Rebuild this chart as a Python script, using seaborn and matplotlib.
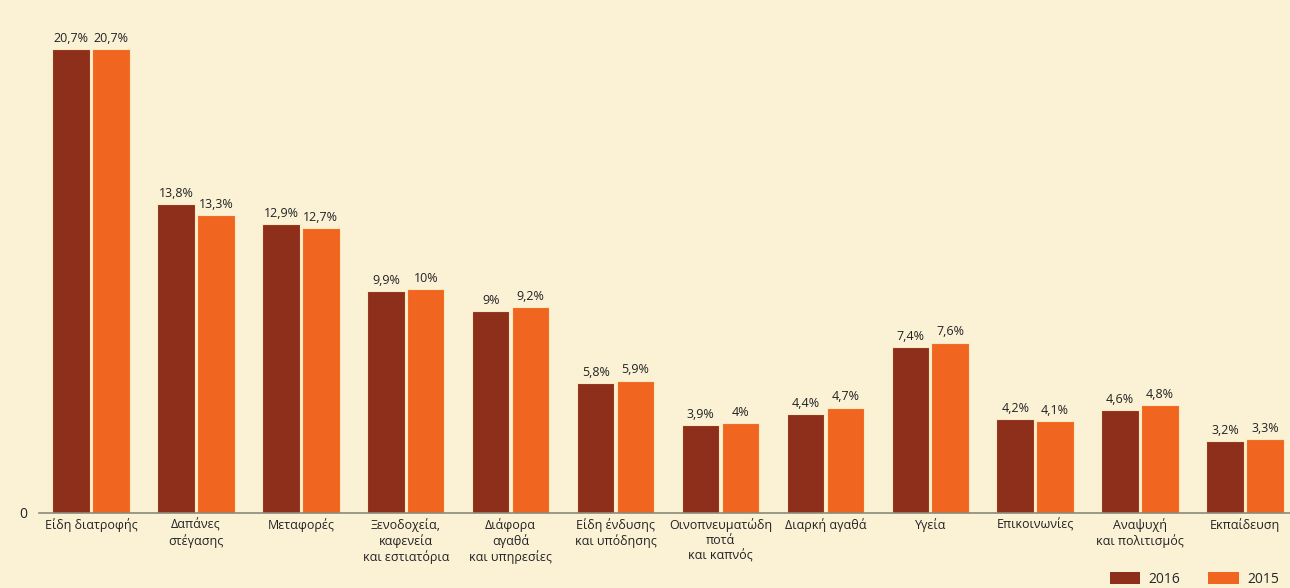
import matplotlib
matplotlib.use("Agg")
import matplotlib.pyplot as plt
import seaborn as sns
import pandas as pd
from matplotlib.patches import Patch

categories = [
    "Είδη διατροφής",
    "Δαπάνες\nστέγασης",
    "Μεταφορές",
    "Ξενοδοχεία,\nκαφενεία\nκαι εστιατόρια",
    "Διάφορα\nαγαθά\nκαι υπηρεσίες",
    "Είδη ένδυσης\nκαι υπόδησης",
    "Οινοπνευματώδη\nποτά\nκαι καπνός",
    "Διαρκή αγαθά",
    "Υγεία",
    "Επικοινωνίες",
    "Αναψυχή\nκαι πολιτισμός",
    "Εκπαίδευση",
]
values_2016 = [20.7, 13.8, 12.9, 9.9, 9.0, 5.8, 3.9, 4.4, 7.4, 4.2, 4.6, 3.2]
values_2015 = [20.7, 13.3, 12.7, 10.0, 9.2, 5.9, 4.0, 4.7, 7.6, 4.1, 4.8, 3.3]
years = ["2016", "2015"]

bg = "#fbf2d6"
c2016 = "#8e2f1c"
c2015 = "#f0651f"

df = pd.DataFrame({
    "cat": categories * 2,
    "year": [years[0]] * len(categories) + [years[1]] * len(categories),
    "val": values_2016 + values_2015,
})

sns.set_theme(style="white")
plt.rcParams["font.family"] = ["Open Sans", "DejaVu Sans"]

fig = plt.figure(figsize=(12.9, 5.88), dpi=100, facecolor=bg)
ax = fig.add_axes([0.03, 0.128, 0.97, 0.872])
ax.set_facecolor(bg)

sns.barplot(data=df, x="cat", y="val", hue="year", order=categories,
            hue_order=years, palette=[c2016, c2015], width=0.76, gap=0.06,
            saturation=1, ax=ax, legend=False, edgecolor="#fbe9c0", linewidth=0.8)

def fmt(v):
    return f"{v:g}".replace(".", ",") + "%"

for cont in ax.containers:
    ax.bar_label(cont, labels=[fmt(b.get_height()) for b in cont],
                 padding=3, fontsize=9, color="#222222")

ax.set_xlim(-0.5, 11.43)
ax.set_ylim(0, 22.9)
ax.set_yticks([0])
ax.set_yticklabels(["0"], fontsize=10, color="#222222")
ax.set_xlabel("")
ax.set_ylabel("")
ax.tick_params(axis="x", labelsize=9, colors="#222222", length=0, pad=4)
ax.tick_params(axis="y", length=0, pad=8)
for s in ["top", "right", "left"]:
    ax.spines[s].set_visible(False)
ax.spines["bottom"].set_color("#8a8a7a")
ax.spines["bottom"].set_linewidth(1.2)

handles = [Patch(facecolor=c2016, edgecolor="none"),
           Patch(facecolor=c2015, edgecolor="none")]
fig.legend(handles, years, loc="lower right", bbox_to_anchor=(0.998, -0.012),
           ncol=2, frameon=False, fontsize=10, handlelength=2.2,
           handleheight=0.9, columnspacing=2.0, handletextpad=0.6,
           borderaxespad=0.2)

fig.savefig("out.png", dpi=100, facecolor=bg)
